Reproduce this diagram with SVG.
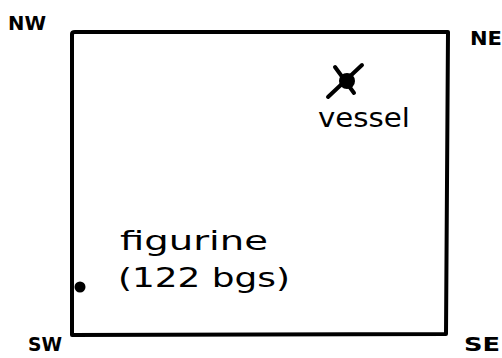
<svg xmlns="http://www.w3.org/2000/svg" width="502" height="358" viewBox="0 0 502 358">
<style>
.t{font-family:"DejaVu Sans","Liberation Sans",sans-serif;fill:#000;}
.c{font-size:19px;font-weight:bold;}
.l{font-size:26px;}
</style>
<rect width="502" height="358" fill="#fff"/>
<g id="room">
<path d="M72,335 L72,34 Q72,32 75,32 L448,32 L446,334 Z" fill="none" stroke="#000" stroke-width="4" stroke-linejoin="round"/>
</g>
<g id="corners">
<text class="t c" x="8" y="30" textLength="38" lengthAdjust="spacingAndGlyphs">NW</text>
<text class="t c" x="470" y="45" textLength="32" lengthAdjust="spacingAndGlyphs">NE</text>
<text class="t c" x="28" y="351" textLength="34" lengthAdjust="spacingAndGlyphs">SW</text>
<text class="t c" x="464" y="351" textLength="36" lengthAdjust="spacingAndGlyphs">SE</text>
</g>
<g id="vessel">
<path d="M335,67 L354,93 M362,65 L328,97" stroke="#000" stroke-width="4" stroke-linecap="round"/>
<circle cx="347" cy="81" r="8"/>
<text class="t l" x="318" y="127" textLength="92" lengthAdjust="spacingAndGlyphs">vessel</text>
</g>
<g id="figurine">
<circle cx="80" cy="287" r="5.5"/>
<text class="t l" x="120" y="250" textLength="148" lengthAdjust="spacingAndGlyphs">figurine</text>
<text class="t l" x="118" y="287" textLength="172" lengthAdjust="spacingAndGlyphs">(122 bgs)</text>
</g>
</svg>
